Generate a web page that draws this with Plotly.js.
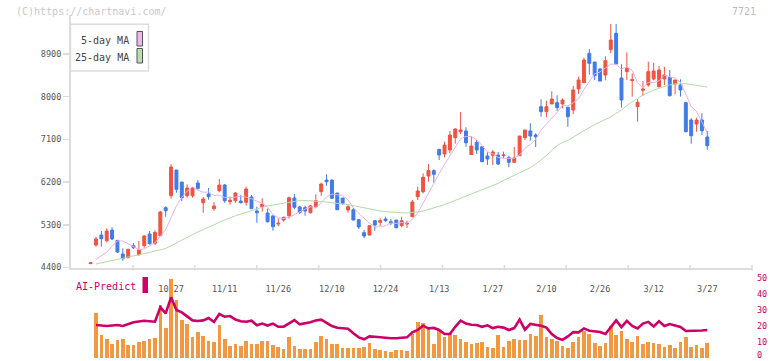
<!DOCTYPE html>
<html>
<head>
<meta charset="utf-8">
<script src="https://cdn.plot.ly/plotly-3.0.1.min.js"></script>
<style>
html,body{margin:0;padding:0;background:#fff;}
#chart{width:772px;height:361px;}
</style>
</head>
<body>
<div id="chart"></div>
<script>
// ---- data (index -1 is the flat first mark) ----
const tickIdx = [14, 24, 34, 44, 54, 64, 74, 84, 94, 104, 114];
const tickLabels = ["10/27", "11/11", "11/26", "12/10", "12/24", "1/13", "1/27", "2/10", "2/26", "3/12", "3/27"];
const volTicks = [0, 10, 20, 30, 40, 50];

const opens = [4482,
  4874, 5085, 4965, 5190, 4973, 4685, 4607, 4860, 4670, 4860,
  5106, 4910, 5070, 5661, 5913, 6455, 6202, 5913, 5913, 6181,
  5766, 5949, 5640, 6019, 6139, 5787, 5808, 5800, 5775, 5886,
  5591, 5675, 5549, 5486, 5317, 5401, 5492, 5865, 5675, 5661,
  5555, 5682, 5998, 6244, 6244, 5970, 5865, 5612, 5618, 5408,
  5134, 5085, 5387, 5353, 5422, 5365, 5401, 5281, 5317, 5471,
  5893, 5998, 6329, 6442, 6891, 6793, 6877, 7137, 7263, 7278,
  6779, 7038, 6946, 6750, 6765, 6772, 6757, 6716, 6617, 6757,
  7137, 7278, 7193, 7790, 7684, 7847, 7875, 7847, 7777, 7720,
  8163, 8297, 8915, 8732, 8585, 8458, 8991, 9337, 8395, 8528,
  8339, 7790, 8135, 8247, 8374, 8212, 8374, 8402, 8268, 8247,
  7875, 7509, 7425, 7509, 7151];
const highs = [4498,
  5043, 5169, 5226, 5247, 4973, 4805, 4796, 4916, 4959, 5085,
  5169, 5184, 5591, 5690, 6582, 6455, 6202, 6153, 6097, 6244,
  5886, 6076, 5780, 6265, 6160, 5893, 5992, 5930, 6103, 5928,
  5682, 5858, 5640, 5507, 5437, 5471, 5893, 5949, 5696, 5703,
  5717, 5943, 6188, 6365, 6244, 5970, 5865, 5717, 5661, 5408,
  5190, 5289, 5387, 5437, 5471, 5422, 5401, 5471, 5387, 5823,
  6103, 6386, 6582, 6470, 6891, 7052, 7278, 7334, 7679, 7355,
  7165, 7088, 6946, 6828, 6877, 6835, 6842, 6757, 6940, 7172,
  7299, 7440, 7229, 7946, 7916, 8114, 8030, 7966, 7790, 8227,
  8423, 8824, 9006, 8732, 8599, 8852, 9533, 9533, 8683, 8936,
  8494, 7946, 8332, 8738, 8717, 8648, 8634, 8564, 8353, 8367,
  7875, 7551, 7558, 7650, 7278];
const lows = [4482,
  4838, 4838, 4931, 4980, 4706, 4543, 4594, 4790, 4649, 4817,
  4881, 4874, 5070, 5471, 5850, 5977, 5802, 5871, 5871, 6040,
  5555, 5829, 5597, 5985, 5766, 5724, 5766, 5745, 5703, 5640,
  5344, 5576, 5351, 5176, 5275, 5365, 5429, 5630, 5528, 5492,
  5542, 5648, 5913, 6124, 5858, 5618, 5717, 5555, 5395, 5212,
  5015, 5070, 5176, 5275, 5365, 5296, 5226, 5250, 5233, 5458,
  5823, 5963, 6209, 6188, 6666, 6723, 6807, 7010, 7208, 6946,
  6772, 6793, 6630, 6561, 6561, 6561, 6702, 6512, 6610, 6757,
  7088, 7073, 6940, 7579, 7566, 7847, 7700, 7756, 7368, 7629,
  8058, 8297, 8466, 8353, 8317, 8346, 8915, 8690, 7769, 8353,
  8002, 7474, 8016, 8212, 8346, 8191, 8247, 8002, 8051, 8002,
  7250, 7010, 7263, 7193, 6883];
const closes = [4498,
  5001, 5007, 5169, 5001, 4727, 4586, 4784, 4817, 4769, 5064,
  4902, 5142, 5570, 5597, 6519, 6048, 5871, 6076, 6076, 6069,
  5844, 5893, 5696, 6139, 5808, 5817, 5970, 5770, 6055, 5640,
  5555, 5739, 5365, 5260, 5332, 5458, 5871, 5668, 5563, 5591,
  5696, 5808, 6160, 6209, 5858, 5618, 5753, 5682, 5401, 5254,
  5064, 5281, 5296, 5387, 5387, 5338, 5239, 5387, 5332, 5780,
  6013, 6301, 6442, 6365, 6771, 6982, 7193, 7320, 7299, 7031,
  6961, 6877, 6630, 6687, 6835, 6582, 6772, 6617, 6708, 7172,
  7299, 7172, 7157, 7684, 7790, 7952, 7770, 7931, 7579, 8142,
  8353, 8774, 8704, 8444, 8332, 8760, 9196, 8690, 7931, 8599,
  8360, 7882, 8163, 8528, 8543, 8564, 8458, 8023, 8353, 8142,
  7263, 7178, 7509, 7284, 6968];

const ma5 = [null,
  4573, 4640, 4720, 4850, 4960, 4960, 4900, 4830, 4780, 4790,
  4850, 4920, 5060, 5200, 5450, 5700, 5880, 6010, 6100, 6030,
  5987, 5992, 5916, 5928, 5876, 5871, 5886, 5901, 5884, 5850,
  5798, 5752, 5671, 5512, 5450, 5431, 5457, 5518, 5578, 5630,
  5678, 5665, 5764, 5893, 5946, 5931, 5920, 5824, 5662, 5542,
  5431, 5336, 5259, 5256, 5283, 5338, 5329, 5348, 5337, 5415,
  5550, 5763, 5974, 6180, 6378, 6572, 6751, 6926, 7113, 7165,
  7161, 7098, 6960, 6837, 6798, 6722, 6701, 6699, 6703, 6770,
  6914, 6994, 7102, 7297, 7420, 7551, 7671, 7825, 7804, 7875,
  7955, 8156, 8310, 8483, 8521, 8603, 8687, 8684, 8582, 8635,
  8555, 8292, 8187, 8306, 8295, 8336, 8451, 8423, 8388, 8308,
  8048, 7792, 7689, 7475, 7240];
const ma25 = [null,
  4474, 4500, 4520, 4545, 4570, 4592, 4620, 4645, 4665, 4690,
  4725, 4745, 4765, 4800, 4860, 4920, 4975, 5030, 5090, 5150,
  5200, 5255, 5300, 5350, 5400, 5450, 5490, 5525, 5565, 5605,
  5640, 5670, 5700, 5718, 5740, 5765, 5785, 5800, 5810, 5812,
  5808, 5800, 5790, 5780, 5770, 5758, 5745, 5725, 5705, 5680,
  5655, 5630, 5610, 5590, 5578, 5566, 5558, 5553, 5550, 5555,
  5570, 5590, 5620, 5650, 5685, 5725, 5770, 5815, 5860, 5905,
  5950, 5995, 6040, 6080, 6125, 6175, 6235, 6290, 6345, 6395,
  6445, 6505, 6580, 6665, 6760, 6870, 6970, 7035, 7080, 7150,
  7220, 7290, 7350, 7415, 7465, 7520, 7575, 7650, 7720, 7815,
  7895, 7965, 8035, 8090, 8140, 8180, 8220, 8250, 8270, 8280,
  8275, 8255, 8235, 8220, 8205];

const volume = [null,
  28.3, 14.4, 11.9, 8.8, 11.3, 11.9, 8.1, 8.1, 10.2, 10.8,
  11.9, 12.5, 33.3, 18.8, 49.4, 36.3, 23.8, 21.3, 13.1, 16.5,
  13.8, 10.6, 10.2, 20.6, 11.9, 7.5, 8.8, 7.5, 10.8, 8.8,
  8.8, 10.8, 10.8, 8.1, 7.1, 5.6, 13.1, 7.5, 5.6, 5.6,
  5.6, 10.2, 13.8, 11.9, 8.8, 8.8, 6.5, 6.5, 6.5, 6.5,
  7.1, 9.6, 5.8, 5.0, 4.6, 3.8, 5.2, 5.2, 4.6, 15.0,
  22.7, 22.1, 17.9, 8.8, 17.5, 13.3, 15.6, 14.4, 11.9, 10.2,
  8.8, 9.6, 10.2, 6.9, 6.3, 14.4, 6.9, 10.8, 11.9, 11.3,
  11.3, 15.0, 14.0, 26.9, 13.3, 11.9, 10.6, 7.5, 6.3, 10.2,
  13.1, 16.9, 15.0, 9.4, 7.5, 9.4, 20.0, 14.4, 16.9, 11.9,
  10.0, 13.8, 8.8, 10.0, 9.4, 8.8, 6.9, 8.1, 6.3, 10.0,
  13.1, 6.9, 8.1, 6.3, 9.4];
const aiPredict = [null,
  20.6, 20.3, 20.0, 20.3, 20.6, 20.0, 21.0, 22.3, 22.8, 23.3,
  23.0, 22.7, 31.7, 27.9, 37.9, 30.0, 28.5, 26.0, 23.5, 23.1,
  23.5, 25.0, 22.5, 27.5, 25.8, 26.2, 24.0, 23.0, 22.7, 23.3,
  20.5, 21.5, 20.3, 21.5, 19.5, 19.6, 21.5, 23.7, 21.0, 21.5,
  22.3, 23.5, 24.0, 22.0, 20.0, 18.9, 18.5, 18.3, 15.5, 12.9,
  11.7, 13.5, 13.3, 12.9, 12.5, 12.3, 12.3, 12.5, 12.9, 16.0,
  17.5, 20.2, 18.5, 18.8, 17.5, 15.0, 15.0, 19.5, 23.3, 21.5,
  20.8, 20.6, 19.5, 20.4, 18.7, 19.5, 19.0, 17.5, 18.7, 24.0,
  17.7, 21.3, 20.8, 20.1, 19.0, 15.0, 12.5, 11.3, 13.5, 16.2,
  16.0, 18.5, 17.0, 16.6, 16.3, 15.0, 19.5, 23.5, 19.3, 23.2,
  20.0, 18.5, 21.5, 22.6, 19.7, 23.0, 20.0, 21.2, 20.3, 19.4,
  16.9, 16.9, 16.9, 17.2, 17.5];

const xIdx = opens.map((_, i) => i - 1);

// ---- layout helpers (pixel -> paper) ----
const L = 71, R = 752, T = 15, B = 358;
const px = x => (x - L) / (R - L);
const py = y => (B - y) / (B - T);
const FONT = "DejaVu Sans Mono, monospace";

const traces = [
  {type: "scatter", mode: "lines", x: xIdx, y: ma25, line: {color: "#b3daa9", width: 1}, hoverinfo: "skip"},
  {type: "scatter", mode: "lines", x: xIdx, y: ma5, line: {color: "#e9b1e9", width: 1}, hoverinfo: "skip"},
  {type: "candlestick", x: xIdx, open: opens, high: highs, low: lows, close: closes,
    increasing: {line: {color: "#f1533f", width: 1}, fillcolor: "#f1533f"},
    decreasing: {line: {color: "#3f7be9", width: 1}, fillcolor: "#3f7be9"},
    whiskerwidth: 0, hoverinfo: "skip"},
  {type: "bar", x: xIdx, y: volume, yaxis: "y2", width: 0.68, marker: {color: "#f2983f", line: {width: 0}}, hoverinfo: "skip"},
  {type: "scatter", mode: "lines", x: xIdx, y: aiPredict, yaxis: "y2", line: {color: "#cc0066", width: 2.6}, hoverinfo: "skip"}
];

const shapes = [];
for (let k = 1; k <= 11; k++) {
  shapes.push({type: "line", xref: "paper", yref: "paper", x0: k / 11, x1: k / 11, y0: py(265), y1: py(270.5), line: {color: "#dcdcdc", width: 1.5}});
}
// legend box
shapes.push({type: "rect", xref: "paper", yref: "paper", x0: px(70.5), x1: px(148.5), y0: py(71), y1: py(24.3), fillcolor: "#ffffff", line: {color: "#dddddd", width: 1.5}});
shapes.push({type: "rect", xref: "paper", yref: "paper", x0: px(137), x1: px(142.5), y0: py(46), y1: py(31.5), fillcolor: "#efb6ef", line: {color: "#555555", width: 1}});
shapes.push({type: "rect", xref: "paper", yref: "paper", x0: px(137), x1: px(142.5), y0: py(63), y1: py(48.5), fillcolor: "#b9dfb1", line: {color: "#555555", width: 1}});
// AI-Predict marker
shapes.push({type: "rect", xref: "paper", yref: "paper", x0: px(142.5), x1: px(148), y0: py(293), y1: py(277), fillcolor: "#cc0066", line: {width: 0}});

const annotations = [
  {xref: "paper", yref: "paper", x: px(14), y: py(12), xanchor: "left", yanchor: "middle", showarrow: false,
    text: "(C)https://chartnavi.com/", font: {family: FONT, size: 10, color: "#c8c8c8"}},
  {xref: "paper", yref: "paper", x: px(758), y: py(12), xanchor: "right", yanchor: "middle", showarrow: false,
    text: "7721", font: {family: FONT, size: 10, color: "#bdbdbd"}},
  {xref: "paper", yref: "paper", x: px(131), y: py(40.5), xanchor: "right", yanchor: "middle", showarrow: false,
    text: "5-day MA", font: {family: FONT, size: 10, color: "#444"}},
  {xref: "paper", yref: "paper", x: px(131), y: py(57), xanchor: "right", yanchor: "middle", showarrow: false,
    text: "25-day MA", font: {family: FONT, size: 10, color: "#444"}},
  {xref: "paper", yref: "paper", x: px(74), y: py(286), xanchor: "left", yanchor: "middle", showarrow: false,
    text: "AI-Predict", font: {family: FONT, size: 10, color: "#cc0066"}},
  // bottom "0" label of the right axis (kept fully inside the picture)
  {xref: "paper", yref: "paper", x: px(756), y: py(360.5), xanchor: "left", yanchor: "bottom", showarrow: false,
    text: String(volTicks[0]), font: {family: FONT, size: 8.5, color: "#cc0066"}, borderpad: 0}
];

const layout = {
  width: 772, height: 361,
  margin: {l: L, r: 772 - R, t: T, b: 361 - B, pad: 0},
  paper_bgcolor: "#ffffff", plot_bgcolor: "#ffffff",
  showlegend: false,
  boxgap: 0.22,
  bargap: 0,
  font: {family: FONT, size: 9, color: "#555"},
  xaxis: {
    range: [-4.66, 122.34], anchor: "y", showgrid: false, zeroline: false,
    showline: true, linecolor: "#dcdcdc", linewidth: 2,
    tickmode: "array", tickvals: tickIdx, ticktext: tickLabels, ticks: "",
    ticklabelstandoff: 12, tickfont: {family: FONT, size: 8.5, color: "#555"},
    rangeslider: {visible: false}, fixedrange: true
  },
  yaxis: {
    domain: [py(268), 1], range: [4389.5, 9722.7], showgrid: false, zeroline: false,
    showline: true, linecolor: "#dcdcdc", linewidth: 2,
    tickmode: "array", tickvals: [4400, 5300, 6200, 7100, 8000, 8900],
    ticks: "outside", ticklen: 6, tickcolor: "#dcdcdc", tickwidth: 1.5,
    tickfont: {family: FONT, size: 8.5, color: "#555"}, fixedrange: true
  },
  yaxis2: {
    domain: [0, py(278)], range: [0, 50], anchor: "x", side: "right",
    showgrid: false, zeroline: false, showline: false,
    tickmode: "array", tickvals: volTicks.slice(1), ticks: "",
    ticklabelstandoff: 4,
    tickfont: {family: FONT, size: 8.5, color: "#cc0066"}, fixedrange: true
  },
  shapes: shapes,
  annotations: annotations
};

Plotly.newPlot("chart", traces, layout, {staticPlot: true, displayModeBar: false});
</script>
</body>
</html>
